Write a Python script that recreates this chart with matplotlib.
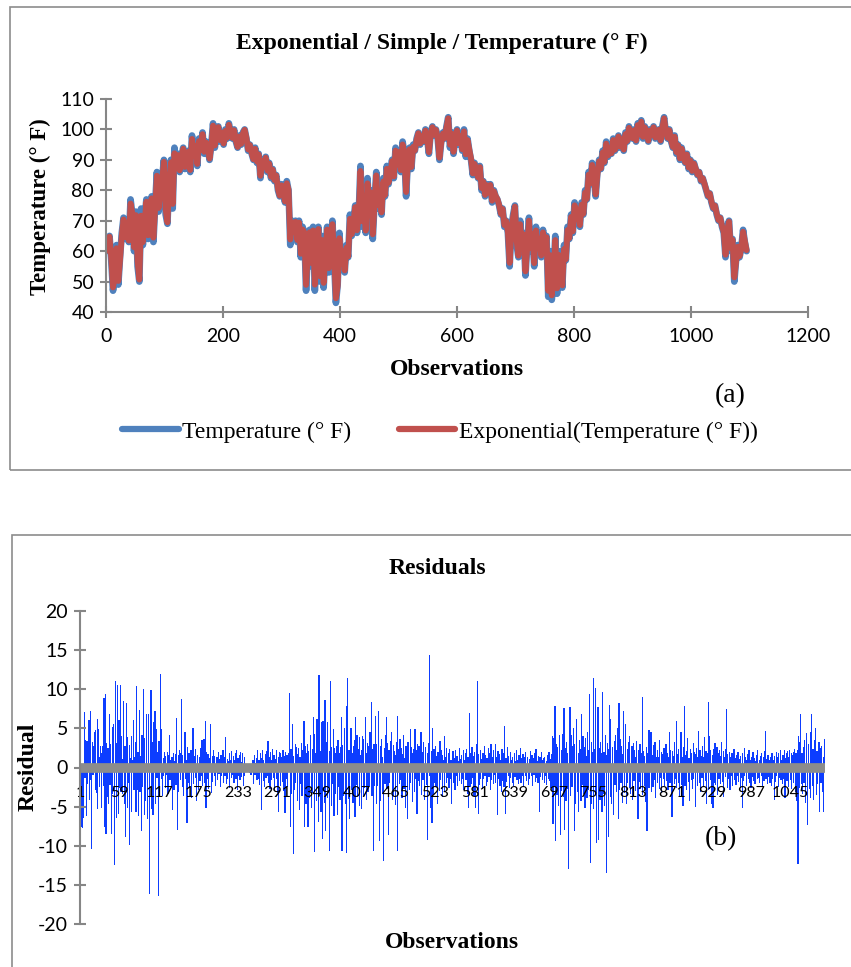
import numpy as np
import matplotlib
matplotlib.use("Agg")
import matplotlib.pyplot as plt
from matplotlib.lines import Line2D
from matplotlib.patches import Rectangle

plt.rcParams["axes.unicode_minus"] = False

# temperature readings, one every 3 observations (0, 3, ..., 1095)
temp_step = 3
temperature = [
    60, 63, 65, 57, 47, 52, 62, 49, 58, 66,
    71, 64, 68, 63, 77, 72, 60, 73, 55, 50,
    74, 62, 70, 77, 64, 72, 78, 63, 75, 86,
    73, 80, 84, 90, 72, 69, 83, 90, 74, 94,
    87, 92, 86, 91, 94, 87, 90, 93, 86, 98,
    91, 95, 88, 97, 93, 99, 92, 96, 94, 90,
    95, 102, 94, 99, 101, 96, 99, 95, 100, 97,
    102, 99, 97, 100, 96, 94, 98, 95, 99, 100,
    97, 93, 95, 92, 90, 94, 89, 92, 84, 90,
    88, 91, 86, 89, 84, 87, 83, 85, 80, 78,
    82, 79, 76, 83, 80, 62, 70, 66, 70, 63,
    70, 58, 68, 66, 47, 60, 67, 55, 68, 47,
    62, 68, 50, 65, 48, 60, 68, 53, 59, 70,
    57, 43, 49, 66, 55, 60, 53, 62, 58, 72,
    65, 70, 75, 66, 72, 88, 68, 74, 66, 84,
    72, 80, 64, 76, 86, 74, 80, 72, 84, 78,
    88, 82, 86, 90, 84, 94, 88, 93, 86, 96,
    92, 78, 90, 94, 87, 95, 93, 97, 99, 95,
    98, 96, 100, 97, 92, 99, 101, 98, 100, 97,
    90, 96, 99, 97, 101, 104, 94, 99, 92, 97,
    100, 95, 98, 93, 100, 91, 97, 93, 90, 85,
    89, 86, 84, 88, 80, 83, 78, 82, 79, 82,
    76, 80, 78, 77, 75, 72, 74, 68, 70, 66,
    55, 68, 72, 75, 62, 58, 70, 60, 66, 52,
    62, 71, 60, 66, 55, 68, 62, 64, 58, 67,
    60, 65, 45, 60, 44, 52, 65, 46, 60, 55,
    48, 62, 57, 68, 64, 72, 66, 76, 70, 74,
    68, 76, 72, 80, 77, 86, 82, 89, 84, 78,
    86, 90, 87, 93, 89, 96, 91, 94, 92, 97,
    93, 95, 98, 94, 97, 93, 99, 96, 101, 98,
    97, 100, 96, 102, 98, 103, 97, 101, 99, 96,
    100, 98, 101, 97, 99, 100, 96, 101, 104, 99,
    97, 100, 96, 94, 98, 92, 95, 90, 94, 91,
    89, 92, 87, 90, 86, 89, 87, 85, 86, 83,
    84, 82, 80, 78, 79, 76, 74, 75, 72, 70,
    71, 68, 66, 58, 68, 70, 60, 64, 50, 57,
    62, 58, 61, 67, 63, 60,
]

# residuals per observation (1..1095)
residuals = [
    2.5, -7.5, -7.6, -7.4, -6.3, 7.1, -1.2, 3.5, -6.1, 3.4, -2.0, 1.5, 6.1, -4.0, 7.2, -1.5, -10.3, 3.3, -0.8, 2.8,
    4.5, -2.7, 4.8, -3.1, 6.2, -5.2, 4.9, -2.4, 1.3, 2.7, -5.0, 1.8, 2.7, -2.2, 8.9, -7.5, 9.4, -8.4, 3.1, -3.6,
    2.5, -4.6, 6.8, -2.1, 3.0, -8.4, 5.2, -3.3, 5.5, -12.3, -10.3, 11.1, -6.3, 3.1, 10.6, -5.8, 6.1, -2.5, 10.5, -3.0,
    4.0, -3.2, 1.1, 8.5, -4.5, 2.8, -8.8, 8.2, -5.0, 3.9, -1.8, 2.9, -9.8, 1.2, 4.0, -5.5, 0.9, 6.1, -2.7, 1.4,
    3.2, -5.5, 10.4, -2.7, 2.0, -6.1, 7.4, -3.0, 1.5, -8.0, 4.2, -2.4, 10.0, -6.0, 3.8, -4.2, 6.8, 4.8, -6.4, 2.9,
    6.8, -16.1, 2.5, 9.9, -5.2, 3.3, -6.0, 5.8, 1.5, 7.2, -4.5, 4.9, -1.2, 2.0, -16.3, 3.4, -2.9, 11.9, -1.4, 4.9,
    -3.5, 1.2, -1.0, 2.0, -2.5, 1.5, -0.8, 2.0, -3.2, 1.6, 4.2, -1.5, 0.9, -2.2, 1.4, -5.3, 1.9, -2.8, 0.8, 1.7,
    -2.1, 6.3, -7.8, 1.6, -3.0, 2.2, -1.5, 1.8, 8.8, -2.4, 1.6, -3.5, 2.1, 4.5, -1.4, 0.9, -7.0, 2.6, -1.8, 1.9,
    -2.5, 1.1, 2.2, -3.8, 1.4, 5.1, -2.0, 1.5, -1.2, 2.4, -4.2, 1.0, 1.6, -2.7, 1.3, -1.6, 2.5, -0.9, 3.5, -2.2,
    1.4, 3.6, -1.9, 5.9, -5.0, 2.0, -1.3, 1.7, -2.6, 1.2, 0.8, 5.5, -3.1, 1.5, -1.7, 2.2, -1.0, 1.5, -2.3, 0.8,
    1.3, -1.5, 2.0, -0.7, 1.1, -2.4, 1.6, -1.0, 0.9, 2.2, -1.8, 1.4, -0.9, 3.9, -2.0, 1.1, -1.3, 0.8, 1.9, -2.5,
    1.0, -1.2, 2.1, -0.8, 1.5, -1.9, 0.9, 1.8, -1.4, 2.2, -2.7, 1.2, -0.9, 1.6, -1.5, 2.0, -1.1, 0.7, 1.9, -2.2,
    1.4, -1.0, 0.4, -0.5, 0.3, 0.5, -0.4, 0.2, -0.6, 0.4, -0.8, 0.3, -0.5, 0.9, -2.0, 1.6, -0.8, 0.6, 1.2, -1.5,
    2.3, -1.4, 1.0, -2.1, 1.8, -5.3, 1.2, 2.2, -1.6, 0.9, -2.4, 1.7, -1.2, 2.1, -0.9, 3.4, -1.8, 1.3, -2.6, 2.0,
    -1.5, 1.0, 2.4, -1.2, 1.6, -2.8, 1.1, -1.4, 2.2, -3.1, 1.4, -5.6, 2.0, 1.8, -2.2, 1.3, -1.7, 2.3, -2.9, 1.5,
    -5.7, 2.0, -1.3, 1.6, -2.4, 1.2, 1.8, 9.5, -7.5, 2.4, -3.2, 5.6, -10.9, 1.5, -2.8, 3.0, -1.9, 2.6, -4.1, 1.7,
    2.5, -5.3, 1.4, -2.0, 3.1, -3.5, 2.2, 1.8, 5.9, -7.5, 2.8, -4.6, 1.9, 3.0, -7.5, 2.1, -3.8, 4.2, 1.5, -5.0,
    2.4, -3.1, 6.5, -10.7, 4.3, 1.8, -4.2, 6.2, 3.0, -6.8, 11.8, -3.5, 2.1, -5.5, 5.8, -9.0, 6.0, 2.5, -4.4, 8.6,
    -8.0, 3.2, -3.8, 5.8, -2.5, 2.1, -10.5, 11.0, -4.8, 2.6, -2.0, 4.9, -6.1, 2.5, -3.2, 1.9, 2.7, -6.0, 3.5, -2.4,
    1.8, -4.0, 2.6, 6.5, -10.6, 2.9, -3.5, 5.1, 1.4, -4.6, 7.8, -10.8, 11.5, -3.9, 2.2, -6.5, 4.0, 5.0, -2.8, 1.9,
    -4.4, 2.8, 3.5, -6.2, 6.5, -2.1, 4.1, -3.6, 2.4, -4.8, 3.9, 1.6, -5.2, 2.3, 4.0, -3.5, 3.7, -2.5, 6.5, 1.9,
    -4.0, 3.1, -3.0, 2.8, -2.4, 4.5, 1.2, 8.4, -3.5, 2.4, -10.6, 3.0, -2.2, 6.6, -4.5, 3.0, -2.2, 7.2, 1.5, -9.3,
    2.7, -4.1, 3.6, 1.4, -3.3, -11.8, 2.5, -2.0, 4.2, 6.5, -2.6, 3.1, -8.5, 2.2, -1.8, 3.4, 1.0, 4.5, -4.0, 2.9,
    -3.5, 2.1, 1.6, -4.7, 3.2, 6.6, -10.6, 2.4, -2.0, 3.6, -1.5, 2.5, -3.8, 1.7, 4.1, -2.6, 1.2, -5.0, 2.8, 2.0,
    -6.5, 3.3, 1.5, -2.7, 4.9, -1.8, 2.6, -4.3, 1.9, 2.4, -3.0, 4.9, -1.4, 2.2, -5.8, 3.0, -1.6, 2.7, -2.3, 1.8,
    4.5, -3.4, 2.0, -1.5, 3.3, -4.0, 1.4, 2.6, -2.1, -9.1, 1.9, 3.1, -1.0, 14.4, -5.0, 2.1, -7.0, 5.0, -3.3, 2.4,
    -1.8, 2.8, -2.4, 1.5, -4.6, 2.0, 1.3, -2.9, 3.4, -1.5, 2.2, -3.7, 1.6, 0.9, 4.0, -3.0, 1.4, -1.9, 2.5, -1.2,
    1.8, -2.5, 2.4, -1.4, 0.9, -4.5, 1.7, 2.1, -1.8, 1.2, -2.7, 2.3, -1.0, 1.5, -2.2, 0.8, 2.5, -1.6, 1.1, -2.0,
    1.6, -1.3, 2.2, -2.8, 1.0, 1.9, -1.5, 2.4, -3.2, 1.3, -5.0, 7.0, -2.4, 1.8, -2.0, 2.6, -1.2, 1.5, -3.5, 2.0,
    -5.0, 1.4, 3.0, 11.1, -5.8, 1.7, -2.1, 2.3, -1.4, 1.1, -2.6, 1.9, -1.3, 2.8, -0.9, 1.6, -2.3, 1.2, -1.7, 2.5,
    -1.1, 1.8, -2.8, 3.0, -1.5, 1.3, -2.0, 2.2, -0.8, 3.0, -1.9, 1.4, -6.0, 2.1, -1.4, 1.7, -2.2, 1.0, -3.0, 2.4,
    -1.6, 1.9, -2.4, 5.3, -5.8, 1.2, -1.7, 2.6, -1.0, 1.5, -2.5, 2.0, -1.2, 0.9, -1.9, 1.4, -2.2, 1.8, -1.1, 0.8,
    2.2, -1.5, 1.0, -2.0, 1.6, -1.3, 2.5, -1.8, 1.2, -0.9, 1.7, -2.4, 1.3, -1.0, 2.0, -1.6, 0.9, 1.4, -2.1, 1.1,
    -1.4, 2.1, -1.0, 1.6, -2.3, 1.2, -0.8, 1.9, -1.7, 2.4, -1.2, 0.8, -1.9, 1.5, -5.5, 1.3, -1.1, 2.0, -1.5, 0.9,
    1.2, -1.8, 1.4, -1.0, 0.8, -2.1, 1.6, -1.3, 2.0, -1.6, 1.1, -2.5, 1.7, 4.0, -7.1, 3.8, -2.2, 7.9, -9.3, 3.0,
    -3.4, 2.6, -4.8, 4.1, 3.6, -8.5, 2.2, -2.9, 4.3, -3.6, 7.6, -7.8, 2.5, -4.1, 3.2, 1.8, -2.6, -12.9, 2.0, 7.7,
    -3.5, 4.2, -2.4, 2.8, 5.0, -8.0, 3.0, -4.5, 2.1, 6.2, -3.0, 1.9, -5.6, 3.5, 2.4, -4.2, 6.8, -2.1, 4.0, -3.3,
    2.6, -5.0, 3.8, 1.5, -3.8, 4.5, -2.8, 2.2, 9.4, -12.1, 3.2, -4.6, 2.0, 11.4, -5.2, 2.4, 10.2, -3.0, -9.5, 3.6,
    7.7, -9.2, 2.5, -4.0, 3.3, 1.8, -5.5, 9.7, -3.2, 2.0, -4.8, 4.1, 1.6, -13.3, 3.1, -8.8, 2.4, 8.0, -3.6, 6.2,
    -4.5, 2.6, 1.9, -6.0, 3.4, -2.1, 4.2, -3.0, 2.3, 5.1, -6.5, 8.3, -2.7, 3.6, -1.9, 2.8, -4.4, 1.7, 7.2, -3.1,
    2.0, 5.5, -4.6, 2.4, -1.8, 3.2, -2.5, 4.0, -3.3, 1.5, 2.7, -4.0, 3.1, -1.6, 2.2, -2.9, 1.4, 3.4, -2.0, -6.5,
    2.3, -1.7, 3.0, -2.6, 1.8, 9.0, -3.4, 2.1, -2.2, 1.5, -4.3, 2.6, -8.0, 1.9, 4.8, -2.5, 4.8, 1.2, 4.6, -3.0,
    1.6, -2.4, 2.9, -1.5, 3.2, -3.8, 1.3, 2.2, -1.9, 1.4, -2.6, 3.5, -1.2, 2.0, -3.1, 1.7, -1.4, 2.5, -2.2, 1.2,
    3.0, -1.6, 1.9, -2.7, 1.4, 4.5, -1.8, 2.3, -3.3, -6.2, 2.1, 1.5, -2.0, 3.3, -1.3, 6.0, -2.5, 1.7, -1.9, 2.4,
    -3.6, 1.8, 4.5, -2.1, 1.3, -4.8, 2.6, 7.8, -2.3, 1.6, -2.8, 2.1, 3.8, -1.7, 1.2, -4.2, 2.4, -1.5, 1.9, -2.6,
    3.1, -1.4, 2.0, -4.9, 1.7, 2.5, -2.2, 1.3, 4.7, -1.9, 2.2, -3.0, 1.5, -1.2, 2.8, -2.4, 1.4, 3.9, -1.6, 2.1,
    -4.5, 1.8, 8.4, -2.7, 4.0, -1.5, 2.3, -4.5, 1.6, -5.0, 2.4, -1.8, 3.1, -2.1, 1.2, 2.6, -3.4, 1.9, -1.3, 2.2,
    -2.0, 1.5, 3.2, -1.7, 2.1, -3.6, 1.3, -1.1, 2.4, 7.5, -2.5, 1.7, -1.4, 2.0, -2.8, 1.4, -1.0, 1.8, -2.3, 1.1,
    2.4, -1.5, 1.2, -2.1, 1.6, -0.9, 2.0, -1.7, 1.1, -2.4, 1.5, -1.2, -5.0, 1.9, -1.6, 2.5, -1.0, 1.3, -2.2, 0.9,
    1.7, -1.3, 2.3, -1.8, 1.0, -2.5, 1.4, -1.1, 2.0, -1.6, 1.2, -2.0, 0.8, 1.6, -1.4, 2.2, -1.2, 0.9, -1.9, 1.5,
    -1.0, 1.8, -2.3, 1.3, -1.6, 2.1, 4.7, -1.4, 1.1, -2.0, 1.6, -1.1, 0.9, -1.8, 1.4, -2.2, 1.9, -1.3, 1.0, -4.0,
    1.5, -1.7, 2.0, -1.0, 1.3, -2.4, 1.8, -1.2, 2.2, -1.5, 1.0, -2.0, 1.6, -1.3, 2.3, -3.8, 1.2, 1.9, -1.6, 2.1,
    -2.4, 1.4, 2.2, -1.5, 1.8, -2.6, 1.6, 2.0, -1.8, 2.4, -3.0, 1.9, -4.1, 2.2, -12.2, 4.0, -2.5, 3.2, 6.8, -2.0,
    1.8, -3.2, 2.6, -1.9, 3.5, -4.4, 2.0, 4.4, -7.2, 1.5, 3.0, -2.6, 4.6, -3.8, 6.8, -2.2, 2.4, -4.0, 1.7, 3.5,
    5.0, -3.4, 2.1, -2.0, 1.6, 3.3, -5.5, 2.5, -1.8, 2.7, -3.0, 1.4, -5.5, 3.6, 1.9,
]

alpha = 0.9
cat_labels = [str(k) for k in range(1, 1096, 58)]

W, H = 851, 967
fig = plt.figure(figsize=(W / 100, H / 100), dpi=100)

def fx(px):
    return px / W

def fy(py):
    return 1 - py / H

serif = "Liberation Serif"
sans = "Lato"
grey = "#868686"

# panel frames
for x0, y0, x1, y1 in [(10, 7, 900, 470), (12, 535, 900, 1000)]:
    fig.patches.append(Rectangle((fx(x0), fy(y1)), fx(x1) - fx(x0), fy(y0) - fy(y1),
                                 transform=fig.transFigure, fill=False,
                                 edgecolor="#8c8c8c", lw=1.2))

# ---- (a) temperature and exponential smoothing
temp = np.array(temperature, dtype=float)
obs = np.arange(len(temp)) * temp_step
smooth = np.empty_like(temp)
smooth[0] = temp[0]
for i in range(1, len(temp)):
    smooth[i] = alpha * temp[i] + (1 - alpha) * smooth[i - 1]

ax1 = fig.add_axes([fx(106), fy(312), fx(808) - fx(106), fy(99) - fy(312)])
ax1.plot(obs, temp, color="#4f81bd", lw=4.8, solid_joinstyle="round", solid_capstyle="round")
ax1.plot(obs, smooth, color="#c0504d", lw=4.2, solid_joinstyle="round", solid_capstyle="round")
ax1.set_xlim(0, 1200)
ax1.set_ylim(40, 110)
ax1.set_xticks(range(0, 1201, 200))
ax1.set_yticks(range(40, 111, 10))
for s in ["top", "right"]:
    ax1.spines[s].set_visible(False)
for s in ["left", "bottom"]:
    ax1.spines[s].set_color(grey)
    ax1.spines[s].set_linewidth(1.5)
ax1.tick_params(direction="inout", length=9, width=1.5, color=grey, labelsize=14, pad=4)
ax1.tick_params(axis="x", pad=7)
for lab in ax1.get_xticklabels() + ax1.get_yticklabels():
    lab.set_fontfamily(sans)

fig.text(fx(442), fy(43), "Exponential / Simple / Temperature (° F)", family=serif,
         weight="bold", size=17, ha="center", va="center")
fig.text(fx(40), fy(207), "Temperature (° F)", family=serif, weight="bold", size=16.5,
         rotation=90, ha="center", va="center")
fig.text(fx(457), fy(369), "Observations", family=serif, weight="bold", size=17,
         ha="center", va="center")
fig.text(fx(730), fy(396), "(a)", family=serif, size=20, ha="center", va="center")

handles = [Line2D([], [], color="#4f81bd", lw=4.5, solid_capstyle="round"),
           Line2D([], [], color="#c0504d", lw=4.5, solid_capstyle="round")]
fig.legend(handles, ["Temperature (° F)", "Exponential(Temperature (° F))"],
           loc="center", bbox_to_anchor=(fx(440), fy(432)), ncol=2, frameon=False,
           prop={"family": serif, "size": 17}, handlelength=2.4, handletextpad=0.15,
           columnspacing=2.0, borderpad=0, borderaxespad=0)

# ---- (b) residuals
res = np.array(residuals)
cats = np.arange(1, len(res) + 1)
ax2 = fig.add_axes([fx(80), fy(924), fx(825) - fx(80), fy(611) - fy(924)])
ax2.bar(cats, res, width=0.3, color="#0d3dff", edgecolor="#0d3dff", linewidth=0.72,
        antialiased=False)
ax2.axhline(0, color="#8c8c8c", lw=7, zorder=2)
ax2.set_xlim(0.5, len(res) + 0.5)
ax2.set_ylim(-20, 20)
ax2.set_yticks(range(-20, 21, 5))
ax2.set_xticks(range(1, 1096, 58))
ax2.set_xticklabels(cat_labels)
for s in ["top", "right"]:
    ax2.spines[s].set_visible(False)
ax2.spines["left"].set_color(grey)
ax2.spines["left"].set_linewidth(1.5)
ax2.spines["bottom"].set_position(("data", 0))
ax2.spines["bottom"].set_visible(False)
ax2.tick_params(axis="y", direction="inout", length=9, width=1.5, color=grey, labelsize=14, pad=4)
ax2.tick_params(axis="x", length=0, labelsize=11.5, pad=13)
for lab in ax2.get_xticklabels() + ax2.get_yticklabels():
    lab.set_fontfamily(sans)

fig.text(fx(437), fy(569), "Residuals", family=serif, weight="bold", size=17,
         ha="center", va="center")
fig.text(fx(28), fy(767), "Residual", family=serif, weight="bold", size=17,
         rotation=90, ha="center", va="center")
fig.text(fx(452), fy(942), "Observations", family=serif, weight="bold", size=17,
         ha="center", va="center")
fig.text(fx(721), fy(839), "(b)", family=serif, size=20, ha="center", va="center")

fig.savefig("out.png", dpi=100)
